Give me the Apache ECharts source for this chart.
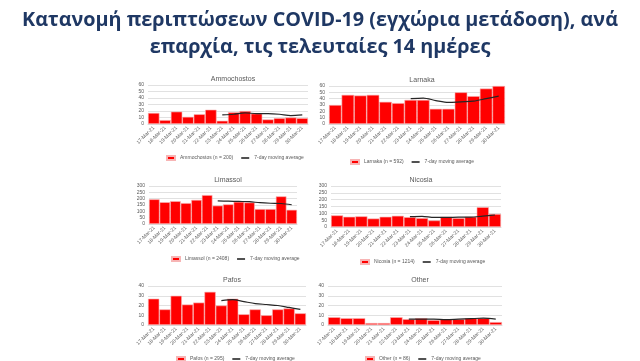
<!DOCTYPE html>
<html><head><meta charset="utf-8">
<script src="https://cdn.jsdelivr.net/npm/echarts@6/dist/echarts.min.js"></script>
<style>html,body{margin:0;padding:0;background:#fff}#c{width:640px;height:361px}</style>
</head><body><div id="c"></div>
<script>
var dates = ['17-Mar-21','18-Mar-21','19-Mar-21','20-Mar-21','21-Mar-21','22-Mar-21','23-Mar-21','24-Mar-21','25-Mar-21','26-Mar-21','27-Mar-21','28-Mar-21','29-Mar-21','30-Mar-21'];
var titleText = 'Κατανομή περιπτώσεων COVID-19 (εγχώρια μετάδοση), ανά\nεπαρχία, τις τελευταίες 14 ημέρες';
var panelNames = ['Ammochostos','Larnaka','Limassol','Nicosia','Pafos','Other'];
var legendNames = ['Ammochostos (n = 200)','Larnaka (n = 592)','Limassol (n = 2408)','Nicosia (n = 1214)','Pafos (n = 295)','Other (n = 86)'];
var maName = '7-day moving average';
var ammochostos = [17,6,19,11,15,22,5,18,20,16,7,9,10,9];
var ammochostosMA = [null,null,null,null,null,null,14,15,17,16,16,15,13,14];
var larnaka = [30,46,45,46,35,33,38,38,24,24,50,44,56,60];
var larnakaMA = [null,null,null,null,null,null,40,41,37,34,35,36,40,44];
var limassol = [195,172,180,165,190,228,145,155,175,170,118,118,218,112];
var limassolMA = [null,null,null,null,null,null,182,180,178,176,168,164,162,152];
var nicosia = [85,75,78,62,75,82,72,65,48,75,65,75,145,95];
var nicosiaMA = [null,null,null,null,null,null,76,78,70,70,72,72,80,88];
var pafos = [27,16,30,21,23,34,20,27,11,16,10,16,17,12];
var pafosMA = [null,null,null,null,null,null,25,26,24,22,21,20,18,16];
var other = [8,7,7,2,2,8,6,7,5,6,6,7,7,3];
var otherMA = [null,null,null,null,null,null,6,6,6,5.5,6,6.5,7,6];
var yMax = [60,60,300,300,40,40];
var yInt = [10,10,50,50,10,10];

var bars = [ammochostos,larnaka,limassol,nicosia,pafos,other];
var mas = [ammochostosMA,larnakaMA,limassolMA,nicosiaMA,pafosMA,otherMA];
var grids = [
  {left:148,top:85,width:160,height:39},
  {left:329,top:86,width:176,height:38},
  {left:149,top:186,width:148,height:38},
  {left:331,top:186,width:170,height:41},
  {left:148,top:286,width:158,height:39},
  {left:328,top:286,width:174,height:39}
];
var legendPos = [{y:154,x:161},{y:158,x:345},{y:255,x:166},{y:258,x:355},{y:355,x:171},{y:355,x:360}];

var option = {
  animation:false,
  backgroundColor:'#fff',
  title:[{text:titleText,left:'center',top:2,textStyle:{fontFamily:'Open Sans',fontWeight:'bold',fontSize:19.8,color:'#1F3864',lineHeight:27}}],
  grid:[],xAxis:[],yAxis:[],series:[],legend:[]
};
for (var i=0;i<6;i++){
  var g = grids[i];
  option.grid.push({left:g.left,top:g.top,width:g.width,height:g.height,containLabel:false});
  option.title.push({text:panelNames[i],left:g.left+g.width/2,top:g.top-14,textAlign:'center',textStyle:{fontFamily:'Liberation Sans',fontWeight:'normal',fontSize:7,color:'#595959'}});
  option.xAxis.push({type:'category',gridIndex:i,data:dates,
    axisLine:{lineStyle:{color:'#d9d9d9'}},axisTick:{show:false},
    axisLabel:{rotate:45,fontSize:5,color:'#595959',margin:3,interval:0,fontFamily:'Liberation Sans'}});
  option.yAxis.push({type:'value',gridIndex:i,min:0,max:yMax[i],interval:yInt[i],
    axisLine:{show:false},axisTick:{show:false},
    splitLine:{lineStyle:{color:'#d9d9d9',width:0.8}},
    axisLabel:{fontSize:5,color:'#595959',margin:4,fontFamily:'Liberation Sans'}});
  option.series.push({type:'bar',name:legendNames[i],xAxisIndex:i,yAxisIndex:i,data:bars[i],
    barCategoryGap:'0%',itemStyle:{color:'#FF0000',borderColor:'#f7b5b5',borderWidth:0.6}});
  option.series.push({type:'line',name:maName,xAxisIndex:i,yAxisIndex:i,data:mas[i],
    smooth:0.3,symbol:'none',lineStyle:{color:'#262626',width:1.2},itemStyle:{color:'#262626'},z:5});
  option.legend.push({data:[{name:legendNames[i],icon:'rect'},{name:maName,icon:'path://M0,0L10,0L10,2L0,2Z'}],
    left:legendPos[i].x,top:legendPos[i].y-4,itemWidth:8,itemHeight:4,itemGap:8,
    textStyle:{fontSize:5,color:'#595959',fontFamily:'Liberation Sans'},selectedMode:false});
}
var chart = echarts.init(document.getElementById('c'));
chart.setOption(option);
</script></body></html>
